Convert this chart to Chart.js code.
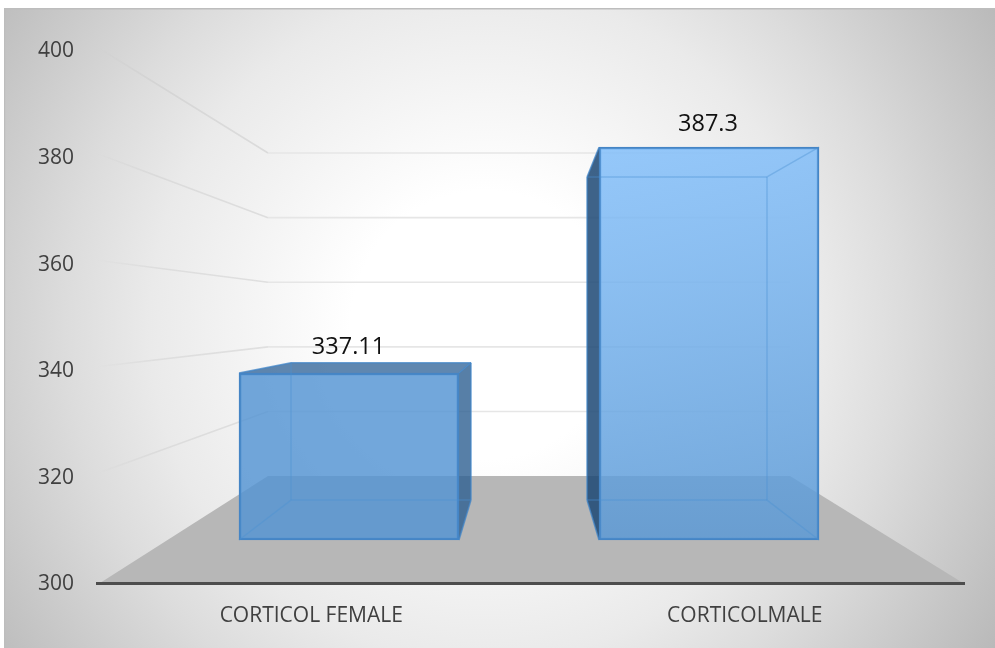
<!DOCTYPE html>
<html>
<head>
<meta charset="utf-8">
<style>html,body{margin:0;padding:0;background:#fff}#wrap{width:995px;height:648px}</style>
<script src="https://cdn.jsdelivr.net/npm/chart.js@4/dist/chart.umd.min.js"></script>
</head>
<body>
<div id="wrap"><canvas id="c" width="995" height="648"></canvas></div>
<script>
const categories = ['CORTICOL FEMALE', 'CORTICOLMALE'];
const values = [337.11, 387.3];
const valueLabels = ['337.11', '387.3'];
const axisMin = 300;
const axisMax = 400;
const axisStep = 20;

const FONT = '"Open Sans", sans-serif';
const FLOOR = '#b7b7b7';
const EDGE = 'rgba(66,134,200,0.75)';
const INNER = 'rgba(76,144,210,0.4)';

function poly(ctx, pts, fill) {
  ctx.beginPath();
  pts.forEach((p, i) => i ? ctx.lineTo(p[0], p[1]) : ctx.moveTo(p[0], p[1]));
  ctx.closePath();
  ctx.fillStyle = fill;
  ctx.fill();
}
function seg(ctx, a, b, color, w) {
  ctx.beginPath();
  ctx.moveTo(a[0], a[1]);
  ctx.lineTo(b[0], b[1]);
  ctx.strokeStyle = color;
  ctx.lineWidth = w;
  ctx.stroke();
}
// Corners of the box for bar i, worked out through the chart's scales.
function box(chart, i) {
  const s = chart.scales;
  const half = 110, backHalf = 90;
  const fx = s.xFront.getPixelForValue(i);
  const bx = s.xBack.getPixelForValue(i);
  return {
    fl: fx - half, fr: fx + half, bl: bx - backHalf, br: bx + backHalf,
    ft: s.yFront.getPixelForValue(values[i]), fb: s.yFront.getPixelForValue(axisMin),
    bt: s.yBox.getPixelForValue(values[i]), bb: s.yBox.getPixelForValue(axisMin)
  };
}

const scene = {
  id: 'scene',
  afterLayout(chart) {
    // small nudges so the axis labels sit where the reference has them
    chart.scales.y.getLabelItems(chart.chartArea).forEach(item => { item.options.translation[1] += 1.5; });
    chart.scales.x.getLabelItems(chart.chartArea).forEach(item => { item.options.translation[0] -= 2.5; });
  },
  beforeDraw(chart) {
    const ctx = chart.ctx, s = chart.scales;
    ctx.save();
    const g = ctx.createRadialGradient(485, 325, 0, 485, 325, 610);
    g.addColorStop(0.22, '#ffffff');
    g.addColorStop(0.55, '#eaeaea');
    g.addColorStop(0.69, '#dcdcdc');
    g.addColorStop(1, '#b8b8b8');
    ctx.fillStyle = g;
    ctx.fillRect(4, 8, 991, 640);
    ctx.fillStyle = '#bdbdbd';
    ctx.fillRect(4, 8, 991, 1.5);
    ctx.fillRect(4, 8, 1.2, 640);
    // floor
    const fy = s.y.getPixelForValue(axisMin), by = s.yWall.getPixelForValue(axisMin);
    poly(ctx, [[100, fy], [963, fy], [790, by], [268, by]], FLOOR);
    // walls
    for (let v = axisMin + axisStep; v <= axisMax; v += axisStep) {
      const yl = s.y.getPixelForValue(v) - 3, yb = s.yWall.getPixelForValue(v);
      const lg = ctx.createLinearGradient(97, 0, 268, 0);
      lg.addColorStop(0, 'rgba(170,170,170,0)');
      lg.addColorStop(0.35, 'rgba(170,170,170,0.2)');
      lg.addColorStop(1, 'rgba(170,170,170,0.3)');
      seg(ctx, [97, yl], [268, yb], lg, 1.6);
      seg(ctx, [268, yb], [790, yb], '#e6e6e6', 1.6);
    }
    ctx.restore();
  },
  beforeDatasetsDraw(chart) {
    const ctx = chart.ctx;
    ctx.save();
    const a = box(chart, 0), b = box(chart, 1);
    // first bar: top and right faces
    poly(ctx, [[a.fl, a.ft], [a.bl, a.bt], [a.br, a.bt], [a.fr, a.ft]], 'rgba(55,105,156,0.8)');
    poly(ctx, [[a.fr, a.ft], [a.br, a.bt], [a.br, a.bb], [a.fr, a.fb]], 'rgba(45,95,145,0.8)');
    // second bar: left face
    poly(ctx, [[b.bl, b.bt], [b.fl, b.ft], [b.fl, b.fb], [b.bl, b.bb]], 'rgba(28,72,116,0.85)');
    ctx.restore();
  },
  afterDatasetsDraw(chart) {
    const ctx = chart.ctx;
    ctx.save();
    ctx.lineJoin = 'round';
    const a = box(chart, 0), b = box(chart, 1);
    // first bar edges
    seg(ctx, [a.bl, a.bt], [a.bl, a.bb], INNER, 1.5);
    seg(ctx, [a.bl, a.bb], [a.br, a.bb], INNER, 1.5);
    seg(ctx, [a.fl, a.fb], [a.bl, a.bb], INNER, 1.5);
    seg(ctx, [a.fr, a.fb], [a.br, a.bb], EDGE, 1.5);
    seg(ctx, [a.fl, a.ft], [a.bl, a.bt], EDGE, 1.5);
    seg(ctx, [a.bl, a.bt], [a.br, a.bt], EDGE, 1.5);
    seg(ctx, [a.fr, a.ft], [a.br, a.bt], EDGE, 1.5);
    seg(ctx, [a.br, a.bt], [a.br, a.bb], EDGE, 1.5);
    // second bar edges
    seg(ctx, [b.bl, b.bt], [b.br, b.bt], INNER, 1.5);
    seg(ctx, [b.bl, b.bb], [b.br, b.bb], INNER, 1.5);
    seg(ctx, [b.br, b.bt], [b.br, b.bb], INNER, 1.5);
    seg(ctx, [b.br, b.bt], [b.fr, b.ft], INNER, 1.5);
    seg(ctx, [b.br, b.bb], [b.fr, b.fb], INNER, 1.5);
    seg(ctx, [b.bl, b.bb], [b.fl, b.fb], EDGE, 1.5);
    seg(ctx, [b.bl, b.bt], [b.fl, b.ft], EDGE, 1.5);
    seg(ctx, [b.bl, b.bt], [b.bl, b.bb], EDGE, 1.5);
    // value labels
    ctx.fillStyle = '#111111';
    ctx.font = '23.5px ' + FONT;
    ctx.textAlign = 'center';
    ctx.textBaseline = 'middle';
    ctx.fillText(valueLabels[0], (a.bl + a.br) / 2 - 32.5, a.bt - 15);
    ctx.fillText(valueLabels[1], (b.fl + b.fr) / 2 - 1, b.ft - 23);
    ctx.restore();
  }
};

new Chart(document.getElementById('c'), {
  type: 'bar',
  data: {
    labels: categories,
    datasets: [{
      data: values.map((v, i) => ({ x: i, y: [axisMin, v] })),
      xAxisID: 'xFront',
      yAxisID: 'yFront',
      barThickness: 220,
      borderWidth: 2,
      borderColor: '#4585c5',
      borderSkipped: false,
      backgroundColor(ctx) {
        if (ctx.dataIndex === 0) return 'rgba(83,148,211,0.82)';
        const area = ctx.chart.chartArea;
        if (!area) return 'rgba(110,175,235,0.82)';
        const g = ctx.chart.ctx.createLinearGradient(0, 147, 0, 540);
        g.addColorStop(0, 'rgba(127,189,250,0.82)');
        g.addColorStop(1, 'rgba(88,152,214,0.82)');
        return g;
      }
    }]
  },
  options: {
    responsive: false,
    animation: false,
    parsing: { xAxisKey: 'x', yAxisKey: 'y' },
    layout: { padding: { left: 0, right: 31, top: 50, bottom: 0 } },
    plugins: { legend: { display: false }, title: { display: false }, tooltip: { enabled: false } },
    scales: {
      x: {
        type: 'category',
        position: 'bottom',
        grid: { display: false, drawTicks: false },
        border: { display: true, color: '#4d4d4d', width: 3 },
        ticks: { color: '#404040', font: { family: FONT, size: 21 }, padding: 20, maxRotation: 0 },
        afterFit(scale) { scale.height = 65; }
      },
      y: {
        position: 'left',
        min: axisMin,
        max: axisMax,
        grid: { display: false, drawTicks: false },
        border: { display: false },
        ticks: { stepSize: axisStep, color: '#404040', font: { family: FONT, size: 21 }, padding: 23 },
        afterFit(scale) { scale.width = 97; }
      },
      // hidden perspective scales: the bars' near plane, far plane and the back wall
      xFront: { type: 'linear', display: false, offset: false, min: -0.7, max: 1.7083 },
      xBack: { type: 'linear', display: false, offset: false, min: -0.9595, max: 1.9696 },
      yFront: { display: false, min: 290.44, max: 408.9 },
      yBox: { display: false, min: 277.6, max: 421.6 },
      yWall: { display: false, min: 266.9, max: 431.9 }
    }
  },
  plugins: [scene]
});
</script>
</body>
</html>
